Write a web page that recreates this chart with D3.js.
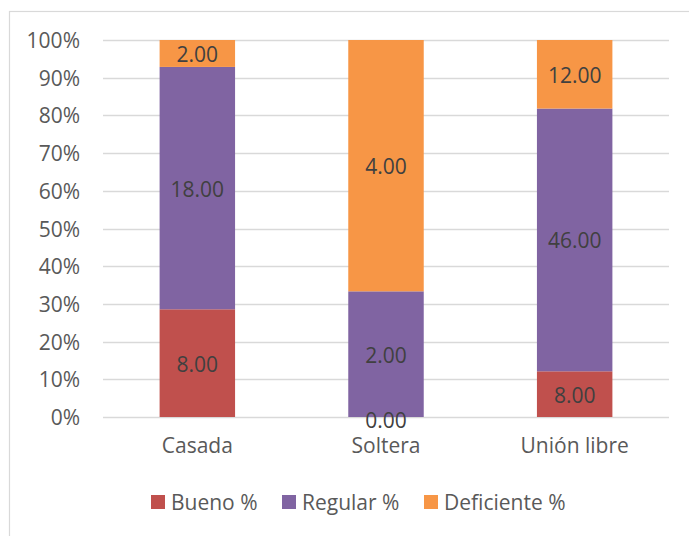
<!DOCTYPE html>
<html>
<head>
<meta charset="utf-8">
<script src="https://cdn.jsdelivr.net/npm/d3@7"></script>
<style>
  html, body { margin: 0; padding: 0; background: #fff; }
  svg { display: block; }
  text { font-family: "Open Sans", "Noto Sans", sans-serif; }
</style>
</head>
<body>
<svg id="chart" width="689" height="536"></svg>
<script>
// Counts per marital status and rating
const categories = ["Casada", "Soltera", "Unión libre"];
const seriesNames = ["Bueno %", "Regular %", "Deficiente %"];
const bueno = [8, 0, 8];
const regular = [18, 2, 46];
const deficiente = [2, 4, 12];
const yTicks = [0, 0.1, 0.2, 0.3, 0.4, 0.5, 0.6, 0.7, 0.8, 0.9, 1.0];
const colors = ["#C0504D", "#8064A2", "#F79646"];

const FONT = "'Open Sans', 'Noto Sans', sans-serif";
const FS = 21;

const svg = d3.select("#chart");
const W = 689, H = 536;
const plot = { left: 103, right: 669, top: 40, bottom: 417 };

// Outer chart frame
svg.append("rect")
  .attr("x", 9.5).attr("y", 11.5)
  .attr("width", W + 10).attr("height", H + 10)
  .attr("fill", "#fff").attr("stroke", "#D9D9D9").attr("stroke-width", 1.2);

const x = d3.scaleBand().domain(categories)
  .range([plot.left, plot.right]).paddingInner(0.6).paddingOuter(0.3);
const y = d3.scaleLinear().domain([0, 1]).range([plot.bottom, plot.top]);

// Gridlines
svg.append("g").selectAll("line").data(yTicks).join("line")
  .attr("x1", plot.left).attr("x2", plot.right)
  .attr("y1", d => Math.round(y(d)) + 0.5).attr("y2", d => Math.round(y(d)) + 0.5)
  .attr("stroke", "#D9D9D9").attr("stroke-width", 1.3);

// Y axis labels
const yAxis = d3.axisLeft(y).tickValues(yTicks).tickFormat(d3.format(".0%")).tickSize(0).tickPadding(0);
const gy = svg.append("g").attr("transform", `translate(${plot.left - 23},0)`).call(yAxis);
gy.select(".domain").remove();
gy.selectAll("text").attr("font-size", FS).attr("fill", "#595959").attr("dy", "0.36em")
  .style("font-family", FONT);

// Stack data as shares of each category's total
const rows = categories.map((c, i) => {
  const total = bueno[i] + regular[i] + deficiente[i];
  return { cat: c, vals: [bueno[i], regular[i], deficiente[i]], total };
});
const keys = [0, 1, 2];
const stack = d3.stack().keys(keys).value((d, k) => d.vals[k] / d.total);
const layers = stack(rows);

const g = svg.append("g");
layers.forEach((layer, li) => {
  g.append("g").selectAll("rect").data(layer).join("rect")
    .attr("x", d => x(d.data.cat))
    .attr("width", x.bandwidth())
    .attr("y", d => y(d[1]))
    .attr("height", d => y(d[0]) - y(d[1]))
    .attr("fill", colors[li]);
});

// Segment value labels
layers.forEach((layer, li) => {
  g.append("g").selectAll("text").data(layer).join("text")
    .attr("x", d => x(d.data.cat) + x.bandwidth() / 2)
    .attr("y", d => (y(d[0]) + y(d[1])) / 2)
    .attr("dy", d => (d[1] - d[0] === 0 ? "0.5em" : "0.4em"))
    .attr("text-anchor", "middle")
    .attr("font-size", FS).attr("fill", "#404040")
    .text(d => d.data.vals[li].toFixed(2));
});

// Category labels
const xAxis = d3.axisBottom(x).tickSize(0).tickPadding(0);
const gx = svg.append("g").attr("transform", `translate(0,${plot.bottom + 36})`).call(xAxis);
gx.select(".domain").remove();
gx.selectAll("text").attr("font-size", FS).attr("fill", "#595959").attr("dy", 0)
  .style("font-family", FONT);

// Legend
const legendX = [151, 282, 424];
const lg = svg.append("g");
seriesNames.forEach((name, i) => {
  lg.append("rect").attr("x", legendX[i]).attr("y", 495).attr("width", 14).attr("height", 14)
    .attr("fill", colors[i]);
  lg.append("text").attr("x", legendX[i] + 20).attr("y", 509.5)
    .attr("font-size", FS).attr("fill", "#595959").text(name);
});
</script>
</body>
</html>
